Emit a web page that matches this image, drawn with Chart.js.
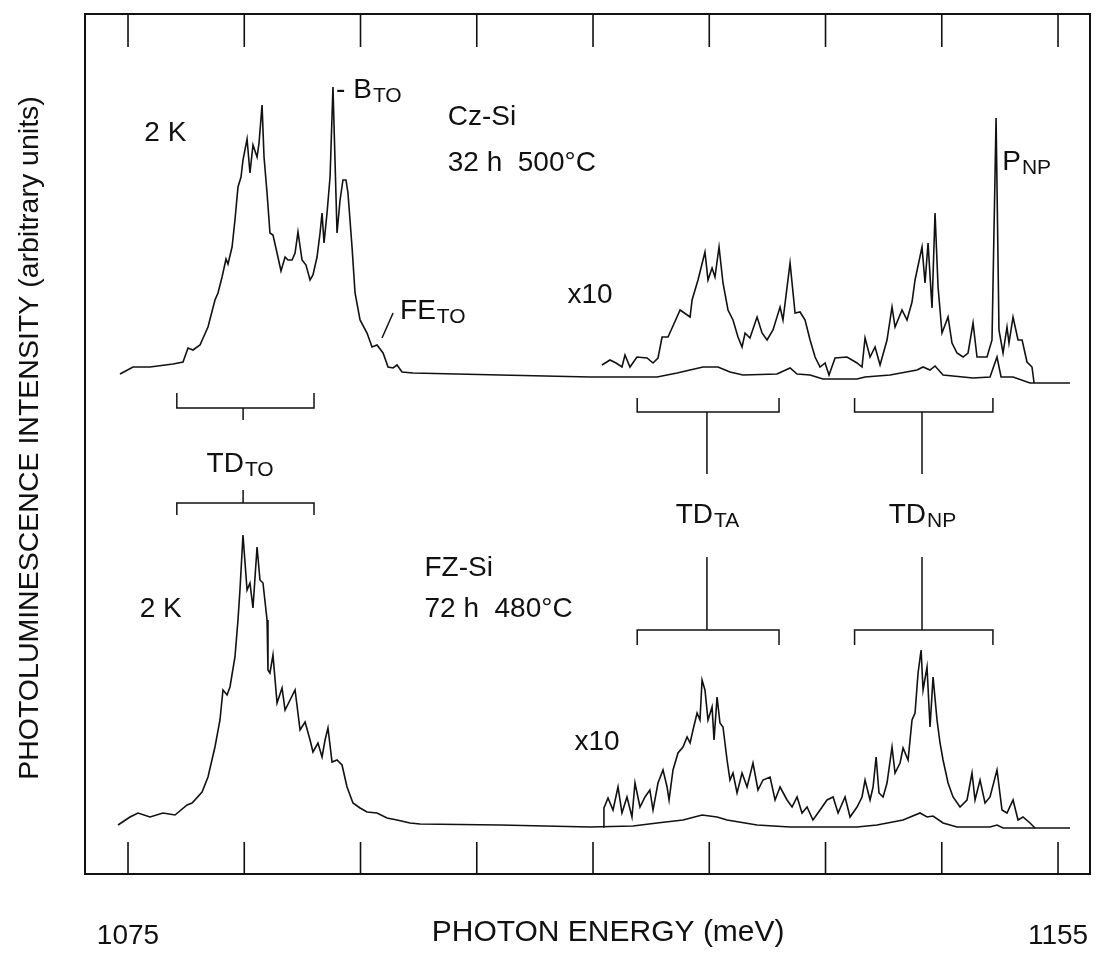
<!DOCTYPE html>
<html lang="en">
<head>
<meta charset="UTF-8">
<title>Thermal donor photoluminescence</title>
<script src="https://cdn.jsdelivr.net/npm/chart.js"></script>
<style>
  body { margin: 0; background: #fff; }
  #wrap { width: 1099px; height: 956px; }
</style>
</head>
<body>
<div id="wrap"><canvas id="plCanvas" width="1099" height="956"></canvas></div>
<script>
// photon energy axis (meV)
const energyTicks = [1075, 1085, 1095, 1105, 1115, 1125, 1135, 1145, 1155];
const labelledTicks = [1075, 1155];

// Cz-Si, 32 h 500°C, 2 K  -- [energy meV, intensity arb.u.] (spectra offset vertically)
const czSi = [
  [1074.31, 50.0], [1075.43, 50.7], [1076.89, 50.7], [1078.87, 51.0], [1079.73, 51.2], [1080.16, 52.6],
  [1080.59, 52.4], [1081.19, 52.9], [1081.88, 54.7], [1082.48, 57.4], [1082.74, 58.1], [1083.09, 59.7],
  [1083.43, 61.5], [1083.60, 61.0], [1083.95, 62.7], [1084.20, 65.4], [1084.46, 68.7], [1084.72, 69.7],
  [1084.89, 71.4], [1085.24, 73.5], [1085.49, 70.1], [1085.75, 72.9], [1086.10, 71.7], [1086.27, 73.1],
  [1086.53, 76.9], [1086.70, 71.7], [1086.96, 68.1], [1087.21, 64.1], [1087.47, 63.9], [1087.82, 62.1],
  [1088.16, 60.3], [1088.51, 61.7], [1088.76, 61.4], [1089.11, 61.4], [1089.37, 62.1], [1089.62, 64.2],
  [1089.97, 61.4], [1090.31, 60.9], [1090.66, 59.4], [1090.91, 59.9], [1091.26, 61.7], [1091.52, 64.1],
  [1091.69, 66.1], [1091.86, 63.1], [1092.12, 66.1], [1092.38, 69.7], [1092.63, 78.7], [1092.98, 64.1],
  [1093.24, 67.4], [1093.49, 69.4], [1093.75, 69.4], [1093.92, 68.1], [1094.27, 62.7], [1094.53, 58.1],
  [1094.96, 55.4], [1095.56, 54.1], [1095.99, 52.7], [1096.42, 52.9], [1096.94, 52.1], [1097.37, 50.7],
  [1097.80, 50.6], [1098.14, 50.9], [1098.57, 50.2], [1099.52, 50.1], [1107.00, 49.9], [1114.74, 49.7],
  [1120.51, 49.7], [1122.23, 50.1], [1124.46, 50.7], [1125.75, 50.7], [1126.78, 50.2], [1127.90, 49.9],
  [1130.83, 50.0], [1131.95, 50.6], [1132.55, 50.0], [1133.67, 49.9], [1134.78, 49.5], [1137.71, 49.5],
  [1138.40, 49.7], [1140.55, 49.9], [1142.87, 50.4], [1143.39, 50.7], [1143.99, 50.4], [1144.42, 50.8],
  [1145.11, 49.9], [1147.69, 49.6], [1149.15, 49.7], [1149.75, 51.7], [1150.10, 49.7], [1151.13, 49.7],
  [1152.59, 49.1], [1156.03, 49.1]
];

// Cz-Si, same spectrum x10
const czSiX10 = [
  [1115.77, 50.9], [1116.46, 51.4], [1116.98, 51.1], [1117.49, 50.7], [1117.75, 51.9], [1118.18, 50.7],
  [1118.78, 51.7], [1119.65, 51.6], [1120.16, 51.1], [1120.59, 51.6], [1120.94, 53.7], [1121.45, 53.7],
  [1121.80, 54.6], [1122.49, 56.4], [1123.35, 55.7], [1123.52, 57.4], [1124.03, 59.4], [1124.63, 62.2],
  [1124.89, 59.4], [1125.24, 60.6], [1125.49, 59.7], [1125.84, 62.7], [1126.18, 59.1], [1126.61, 56.4],
  [1127.04, 55.4], [1127.47, 53.7], [1127.82, 52.7], [1128.08, 54.1], [1128.50, 53.6], [1129.11, 55.7],
  [1129.54, 54.1], [1129.97, 53.4], [1130.48, 54.4], [1131.09, 56.7], [1131.34, 55.4], [1131.95, 61.1],
  [1132.38, 56.1], [1132.81, 56.2], [1133.24, 55.4], [1133.67, 53.4], [1134.10, 51.7], [1134.53, 50.7],
  [1134.96, 51.1], [1135.30, 49.9], [1135.82, 51.6], [1136.85, 51.7], [1137.71, 51.1], [1138.14, 50.7],
  [1138.40, 53.6], [1138.83, 51.7], [1139.26, 52.7], [1139.69, 50.9], [1140.29, 53.4], [1140.72, 56.7],
  [1140.98, 54.7], [1141.58, 56.4], [1142.01, 55.4], [1142.44, 57.2], [1142.70, 59.4], [1143.30, 62.7],
  [1143.56, 59.1], [1143.82, 63.1], [1144.16, 56.6], [1144.42, 66.1], [1144.68, 58.7], [1145.02, 54.1],
  [1145.54, 55.7], [1145.88, 53.1], [1146.31, 52.1], [1146.83, 51.7], [1147.26, 52.1], [1147.69, 55.1],
  [1148.03, 51.7], [1148.89, 51.7], [1149.32, 53.4], [1149.67, 75.6], [1149.92, 54.4], [1150.27, 52.1],
  [1150.61, 54.7], [1150.78, 53.1], [1151.13, 55.7], [1151.56, 53.4], [1151.91, 53.4], [1152.33, 51.2],
  [1152.76, 50.7], [1152.94, 49.1]
];

// FZ-Si, 72 h 480°C, 2 K
const fzSi = [
  [1074.14, 4.9], [1075.17, 5.7], [1075.86, 6.1], [1076.89, 5.7], [1078.01, 6.1], [1079.04, 5.9],
  [1080.08, 6.9], [1080.51, 7.1], [1081.37, 8.2], [1081.88, 9.7], [1082.48, 12.7], [1082.91, 15.4],
  [1083.17, 18.4], [1083.52, 17.9], [1083.77, 18.7], [1084.20, 21.7], [1084.46, 25.4], [1084.63, 28.4],
  [1084.89, 33.9], [1085.24, 28.4], [1085.49, 29.1], [1085.75, 26.6], [1086.10, 32.7], [1086.35, 29.4],
  [1086.61, 29.1], [1086.96, 25.4], [1087.04, 20.4], [1087.21, 20.1], [1087.47, 21.9], [1087.82, 17.1],
  [1088.25, 18.6], [1088.51, 16.4], [1088.94, 17.4], [1089.37, 18.4], [1089.80, 14.4], [1090.23, 15.2],
  [1090.66, 13.4], [1090.91, 12.2], [1091.34, 13.1], [1091.69, 11.7], [1091.95, 13.4], [1092.20, 14.6],
  [1092.55, 11.2], [1092.98, 11.4], [1093.41, 10.9], [1093.84, 8.7], [1094.35, 7.1], [1094.96, 6.6],
  [1095.56, 6.2], [1096.42, 6.1], [1097.28, 5.6], [1098.14, 5.4], [1099.26, 5.1], [1100.12, 5.0],
  [1107.00, 4.9], [1114.74, 4.7], [1118.44, 4.8], [1120.51, 5.1], [1122.74, 5.4], [1124.38, 5.9],
  [1125.67, 5.7], [1126.53, 5.4], [1129.11, 4.9], [1131.95, 4.7], [1137.71, 4.7], [1139.43, 4.9],
  [1141.67, 5.4], [1143.13, 6.1], [1143.73, 5.7], [1144.25, 5.8], [1145.11, 5.1], [1146.31, 4.7],
  [1149.15, 4.7], [1149.75, 4.9], [1150.27, 4.6], [1152.85, 4.6], [1156.03, 4.6]
];

// FZ-Si x10
const fzSiX10 = [
  [1115.86, 4.7], [1115.94, 6.6], [1116.29, 7.6], [1116.72, 6.4], [1117.15, 8.7], [1117.49, 6.1],
  [1117.92, 7.7], [1118.35, 5.7], [1118.61, 9.1], [1119.04, 6.7], [1119.47, 7.7], [1119.89, 8.4],
  [1120.16, 6.4], [1120.59, 9.1], [1121.02, 10.4], [1121.37, 8.7], [1121.54, 7.4], [1121.88, 10.4],
  [1122.31, 12.1], [1122.74, 12.7], [1123.09, 13.7], [1123.35, 13.1], [1123.60, 14.4], [1123.95, 16.1],
  [1124.20, 15.4], [1124.38, 19.4], [1124.63, 18.4], [1124.89, 15.4], [1125.24, 16.7], [1125.41, 13.4],
  [1125.67, 17.7], [1125.92, 15.1], [1126.18, 14.7], [1126.53, 11.4], [1126.78, 9.4], [1127.04, 10.1],
  [1127.39, 8.1], [1127.82, 10.1], [1128.25, 8.7], [1128.76, 11.1], [1129.19, 8.4], [1129.62, 9.4],
  [1130.23, 9.7], [1130.66, 7.4], [1131.09, 8.7], [1131.69, 7.4], [1132.12, 6.7], [1132.55, 7.7],
  [1132.98, 6.1], [1133.41, 6.7], [1133.92, 5.4], [1134.53, 6.4], [1135.13, 7.4], [1135.65, 7.7],
  [1136.08, 6.1], [1136.68, 7.7], [1137.11, 5.7], [1137.71, 6.7], [1138.14, 7.7], [1138.40, 9.4],
  [1138.83, 7.4], [1139.09, 8.7], [1139.35, 11.7], [1139.60, 8.1], [1139.95, 7.7], [1140.29, 9.1],
  [1140.72, 12.7], [1140.98, 10.1], [1141.41, 11.1], [1141.67, 12.6], [1142.10, 11.4], [1142.44, 15.4],
  [1142.70, 16.1], [1142.96, 20.1], [1143.22, 22.4], [1143.39, 18.4], [1143.73, 20.7], [1143.99, 14.7],
  [1144.25, 19.7], [1144.59, 15.4], [1144.85, 13.1], [1145.11, 11.4], [1145.54, 9.1], [1145.97, 7.7],
  [1146.57, 6.7], [1147.17, 7.4], [1147.60, 10.1], [1147.86, 7.4], [1148.29, 9.4], [1148.72, 7.1],
  [1149.15, 7.7], [1149.75, 10.4], [1150.18, 6.4], [1150.61, 6.1], [1151.13, 7.4], [1151.56, 5.4],
  [1151.99, 5.7], [1152.59, 5.1], [1153.02, 4.6]
];

// thermal donor replica brackets: [low edge, centre, high edge] in meV
const tdBands = [[1079.2, 1084.9, 1091.0], [1118.8, 1124.8, 1131.0], [1137.5, 1143.3, 1149.4]];
// bracket levels (arb.u.): bar, leg end, stem end
const czToLevels = [46.6, 48.1, 45.4];
const czLevels = [46.2, 47.6, 40.0];
const fzToLevels = [37.1, 35.9, 38.4];
const fzLevels = [24.4, 22.9, 31.7];
const feLeader = [[1096.85, 53.6], [1097.8, 56.1]];

const notes = [
  { t: '2 K', e: 1076.4, v: 74.1 },
  { t: 'Cz-Si', e: 1102.5, v: 75.7 },
  { t: '32 h  500°C', e: 1102.5, v: 71.1 },
  { t: '- B', s: 'TO', e: 1092.9, v: 78.4 },
  { t: 'FE', s: 'TO', e: 1098.4, v: 56.3 },
  { t: 'x10', e: 1112.8, v: 57.9 },
  { t: 'P', s: 'NP', e: 1150.2, v: 71.2 },
  { t: 'TD', s: 'TO', e: 1084.6, v: 41.0, mid: true },
  { t: 'TD', s: 'TA', e: 1124.8, v: 35.9, mid: true },
  { t: 'TD', s: 'NP', e: 1143.3, v: 35.9, mid: true },
  { t: '2 K', e: 1076.0, v: 26.5 },
  { t: 'FZ-Si', e: 1100.5, v: 30.6 },
  { t: '72 h  480°C', e: 1100.5, v: 26.5 },
  { t: 'x10', e: 1113.4, v: 13.2 }
];

const FONT = '"Liberation Sans", Arial, Helvetica, sans-serif';
const INK = '#111';

function pts(arr) { return arr.map(p => ({ x: p[0], y: p[1] })); }

// bracket outline with legs toward the spectrum and a stem toward the label
function bracket(band, lv) {
  return [
    { x: band[0], y: lv[1] }, { x: band[0], y: lv[0] }, { x: band[2], y: lv[0] }, { x: band[2], y: lv[1] },
    { x: band[2], y: null },
    { x: band[1], y: lv[0] }, { x: band[1], y: lv[2] }
  ];
}

function line(data, width) {
  return { data: data, borderColor: INK, borderWidth: width || 1.6, pointRadius: 0, tension: 0, fill: false, spanGaps: false };
}

const datasets = [
  line(pts(czSi)), line(pts(czSiX10)), line(pts(fzSi)), line(pts(fzSiX10)),
  line(bracket(tdBands[0], czToLevels), 1.5),
  line(bracket(tdBands[1], czLevels), 1.5),
  line(bracket(tdBands[2], czLevels), 1.5),
  line(bracket(tdBands[0], fzToLevels), 1.5),
  line(bracket(tdBands[1], fzLevels), 1.5),
  line(bracket(tdBands[2], fzLevels), 1.5),
  line(pts(feLeader), 1.5)
];

const framePlugin = {
  id: 'frame',
  afterDraw(chart) {
    const ctx = chart.ctx, a = chart.chartArea;
    const xs = chart.scales.x, ys = chart.scales.y;
    ctx.save();
    ctx.strokeStyle = INK;
    ctx.lineWidth = 2;
    ctx.strokeRect(a.left, a.top, a.right - a.left, a.bottom - a.top);
    // inward tick marks on top and bottom
    ctx.lineWidth = 1.6;
    energyTicks.forEach(v => {
      const px = xs.getPixelForValue(v);
      ctx.beginPath();
      ctx.moveTo(px, a.top); ctx.lineTo(px, a.top + 33);
      ctx.moveTo(px, a.bottom); ctx.lineTo(px, a.bottom - 32);
      ctx.stroke();
    });
    ctx.fillStyle = INK;
    ctx.textBaseline = 'middle';
    // axis titles
    ctx.font = '30px ' + FONT;
    ctx.textAlign = 'center';
    ctx.fillText('PHOTON ENERGY (meV)', xs.getPixelForValue(1116.3), 933);
    ctx.font = '28.5px ' + FONT;
    ctx.save();
    ctx.translate(30, (a.top + a.bottom) / 2 - 6);
    ctx.rotate(-Math.PI / 2);
    ctx.fillText('PHOTOLUMINESCENCE INTENSITY (arbitrary units)', 0, 0);
    ctx.restore();
    // annotations
    notes.forEach(n => {
      const px = xs.getPixelForValue(n.e), py = ys.getPixelForValue(n.v);
      ctx.font = '28px ' + FONT;
      const w1 = ctx.measureText(n.t).width;
      let w2 = 0;
      if (n.s) { ctx.font = '21px ' + FONT; w2 = ctx.measureText(n.s).width; }
      const x0 = n.mid ? px - (w1 + w2) / 2 : px;
      ctx.textAlign = 'left';
      ctx.font = '28px ' + FONT;
      ctx.fillText(n.t, x0, py);
      if (n.s) {
        ctx.font = '21px ' + FONT;
        ctx.fillText(n.s, x0 + w1 + 1, py + 6);
      }
    });
    ctx.restore();
  }
};

new Chart(document.getElementById('plCanvas'), {
  type: 'line',
  data: { datasets: datasets },
  options: {
    responsive: false,
    animation: false,
    devicePixelRatio: 1,
    layout: { padding: { left: 85, right: 9, top: 14, bottom: 0 } },
    plugins: { legend: { display: false }, tooltip: { enabled: false } },
    scales: {
      x: {
        type: 'linear',
        min: 1071.3,
        max: 1157.75,
        afterBuildTicks: s => { s.ticks = energyTicks.map(v => ({ value: v })); },
        afterFit: s => { s.height = 82; s.paddingLeft = 0; s.paddingRight = 0; },
        grid: { display: false, drawTicks: false },
        border: { display: false },
        ticks: {
          color: INK,
          padding: 45,
          font: { family: FONT, size: 28 },
          maxRotation: 0,
          autoSkip: false,
          callback: v => labelledTicks.includes(v) ? String(v) : ''
        }
      },
      y: { display: false, min: 0, max: 86 }
    }
  },
  plugins: [framePlugin]
});
</script>
</body>
</html>
